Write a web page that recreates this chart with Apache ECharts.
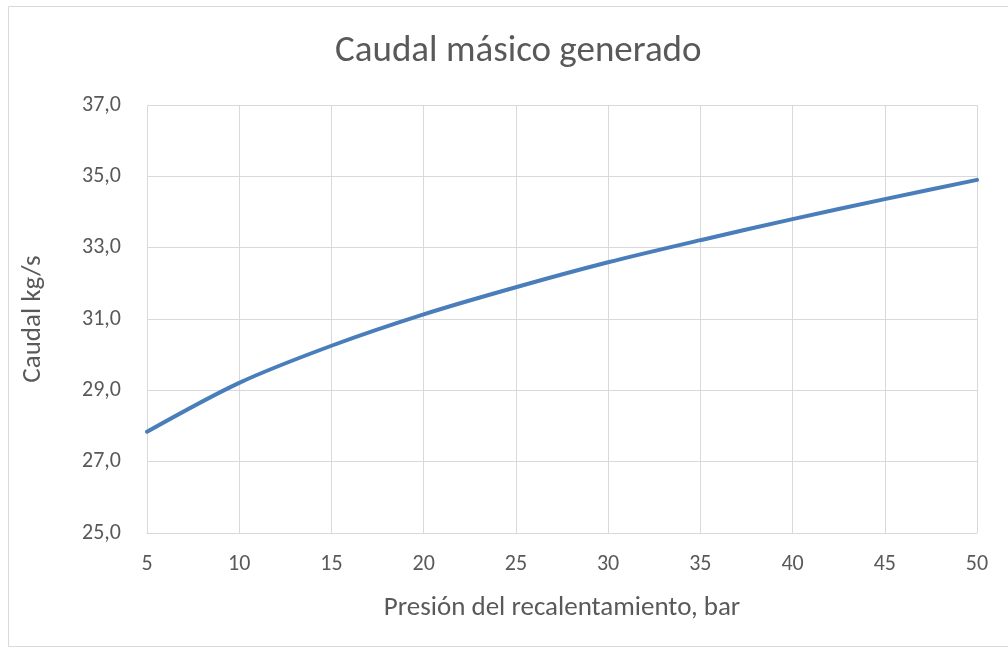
<!DOCTYPE html>
<html><head><meta charset="utf-8">
<script src="https://cdn.jsdelivr.net/npm/echarts@6/dist/echarts.min.js"></script>
<style>html,body{margin:0;padding:0;background:#fff}#c{width:1008px;height:648px}</style>
</head><body><div id="c"></div>
<script>
const title = 'Caudal másico generado';
const xName = 'Presión del recalentamiento, bar';
const yName = 'Caudal kg/s';
const presion = [5, 10, 15, 20, 25, 30, 35, 40, 45, 50];
const caudal = [27.84, 29.21, 30.25, 31.13, 31.89, 32.59, 33.21, 33.80, 34.36, 34.90];

const FONT = 'Carlito, Calibri, Lato, sans-serif';
const TXT = '#595959';
const GRID = '#d9d9d9';

const chart = echarts.init(document.getElementById('c'), null, {renderer: 'canvas'});
chart.setOption({
  animation: false,
  backgroundColor: '#fff',
  graphic: [{type: 'rect', shape: {x: 8.5, y: 6.5, width: 1010, height: 640}, style: {fill: 'none', stroke: '#d9d9d9', lineWidth: 1}, silent: true}],
  title: {text: title, left: 330, top: 28, textStyle: {fontFamily: FONT, fontSize: 37, fontWeight: 'normal', color: TXT}},
  grid: {left: 147, right: 31, top: 105, bottom: 115},
  xAxis: {
    type: 'value', min: 5, max: 50, interval: 5,
    name: xName, nameLocation: 'middle', nameGap: 62,
    nameTextStyle: {fontFamily: FONT, fontSize: 27, color: TXT},
    axisLine: {show: true, lineStyle: {color: GRID, width: 1}},
    axisTick: {show: false},
    axisLabel: {fontFamily: FONT, fontSize: 22, color: TXT, margin: 20},
    splitLine: {show: true, lineStyle: {color: GRID, width: 1}}
  },
  yAxis: {
    type: 'value', min: 25, max: 37, interval: 1,
    name: yName, nameLocation: 'middle', nameGap: 100,
    nameTextStyle: {fontFamily: FONT, fontSize: 27, color: TXT},
    axisLine: {show: false},
    axisTick: {show: false},
    axisLabel: {fontFamily: FONT, fontSize: 22, color: TXT, margin: 26,
      formatter: v => (Math.round(v) % 2 === 1) ? v.toFixed(1).replace('.', ',') : ''},
    splitLine: {show: true, lineStyle: {color: [GRID, 'rgba(0,0,0,0)'], width: 1}}
  },
  series: [{
    type: 'line', data: presion.map((x, i) => [x, caudal[i]]),
    smooth: 0.3, showSymbol: false,
    lineStyle: {color: '#4a7ebb', width: 4, cap: 'round'},
    itemStyle: {color: '#4a7ebb'}
  }]
});
</script></body></html>
